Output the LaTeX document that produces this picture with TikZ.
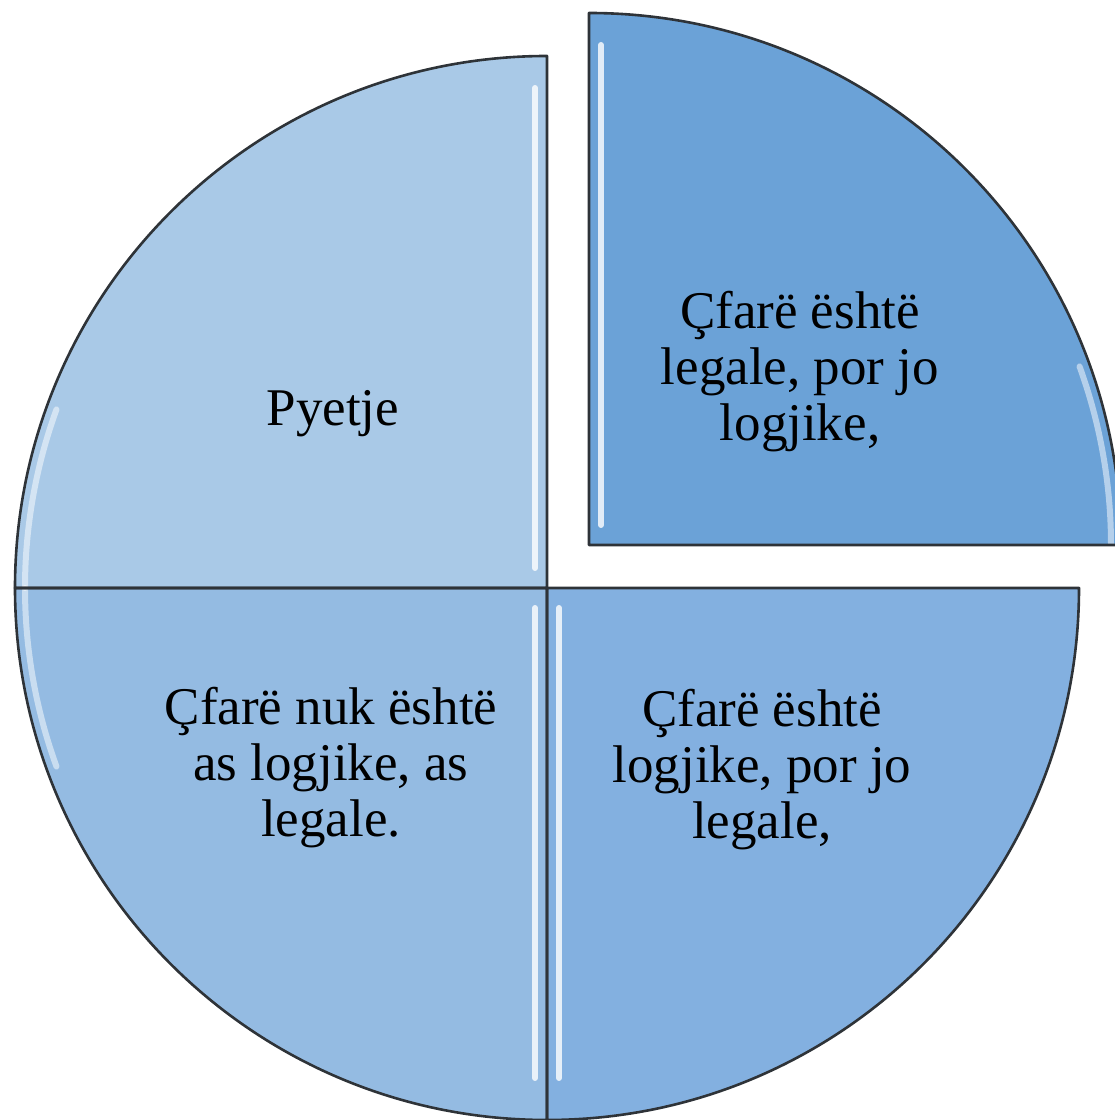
\documentclass[tikz,border=0pt]{standalone}
\usepackage{fontspec}
\setmainfont{Liberation Serif}
\usepackage{xcolor}
\definecolor{pieA}{HTML}{A9C9E7}
\definecolor{pieB}{HTML}{6BA2D7}
\definecolor{pieC}{HTML}{94BBE2}
\definecolor{pieD}{HTML}{83B0E0}
\definecolor{rimline}{HTML}{2E3338}

\begin{document}
\begin{tikzpicture}[x=1pt,y=1pt,
    slice/.style={draw=rimline, line width=2.6pt, line join=round},
    gloss/.style={white, line width=6pt, opacity=0.8, line cap=round},
    label/.style={align=center, font=\fontsize{53}{56}\selectfont, text=black}]
    \useasboundingbox (0,0) rectangle (1115,1120);
    \coordinate (c) at (547,532);
    \coordinate (e) at (589,575);
    % slices
    \fill[pieA] (c) -- ++(-532,0) arc (180:90:532) -- cycle;
    \fill[pieB] (e) -- ++(0,532) arc (90:0:532) -- cycle;
    \fill[pieC] (c) -- ++(0,-532) arc (270:180:532) -- cycle;
    \fill[pieD] (c) -- ++(532,0) arc (0:-90:532) -- cycle;
    % gloss
    \draw[gloss] ([shift={(-12,20)}]c) -- ++(0,480);
    \draw[gloss] ([shift={(12,20)}]e) -- ++(0,480);
    \draw[gloss] ([shift={(-12,-20)}]c) -- ++(0,-470);
    \draw[gloss] ([shift={(12,-20)}]c) -- ++(0,-470);
    \draw[gloss, opacity=0.5] ([shift={(-522,0)}]c) arc (180:160:522);
    \draw[gloss, opacity=0.5] ([shift={(-522,0)}]c) arc (180:200:522);
    \draw[gloss, opacity=0.5] ([shift={(522,0)}]e) arc (0:20:522);
    % outlines
    \draw[slice] (c) -- ++(-532,0) arc (180:90:532) -- cycle;
    \draw[slice] (e) -- ++(0,532) arc (90:0:532) -- cycle;
    \draw[slice] (c) -- ++(0,-532) arc (270:180:532) -- cycle;
    \draw[slice] (c) -- ++(532,0) arc (0:-90:532) -- cycle;
    % texts
    \node[label] (q1) at (333,706) {Pyetje};
    \node[label] (q2) at (800,748) {Çfarë është\\legale, por jo\\logjike,};
    \node[label] (q3) at (331,352) {Çfarë nuk është\\as logjike, as\\legale.};
    \node[label] (q4) at (762,350) {Çfarë është\\logjike, por jo\\legale,};
\end{tikzpicture}
\end{document}
